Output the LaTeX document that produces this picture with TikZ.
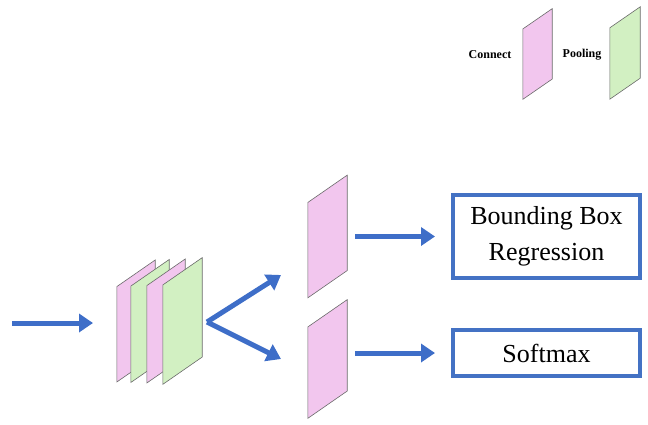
\documentclass[tikz,border=0pt]{standalone}
\usepackage{fontspec}
\setmainfont{Liberation Serif}
\usepackage{tikz}
\usetikzlibrary{arrows.meta,shapes}
\definecolor{flowblue}{HTML}{3E6EC8}
\definecolor{boxblue}{HTML}{4472C4}
\definecolor{connpink}{HTML}{F2C6EE}
\definecolor{poolgreen}{HTML}{D2F0C2}
\definecolor{layerline}{HTML}{6A6A6A}
% name, fill, centre, width, height
\newcommand{\layer}[5]{%
  \pgfmathsetmacro{\halfrise}{0.35*#4}
  \node[inner sep=0pt, minimum width=#4pt, minimum height=#5pt] (#1) at #3 {};
  \filldraw[fill=#2, draw=layerline, line width=0.6pt]
    ([yshift=-\halfrise pt]#1.south west) -- ([yshift=-\halfrise pt]#1.north west)
    -- ([yshift=\halfrise pt]#1.north east) -- ([yshift=\halfrise pt]#1.south east) -- cycle;
}

\begin{document}
\begin{tikzpicture}[x=1pt, y=-1pt,
  flow/.style={line width=5pt, draw=flowblue, -{Triangle[length=14pt, width=18pt]}},
  outbox/.style={draw=boxblue, line width=4pt, inner sep=0pt, font=\fontsize{26}{36}\selectfont, align=center},
  legend/.style={font=\fontsize{12}{14}\selectfont\bfseries}]
  \useasboundingbox (0,0) rectangle (648,424);

  % Legend
  \node[legend] (conntext) at (490,55) {Connect};
  \layer{connkey}{connpink}{(537.5,54)}{29}{70}
  \node[legend] (pooltext) at (582,55) {Pooling};
  \layer{poolkey}{poolgreen}{(625,53)}{30}{71}

  % Layers
  \layer{l1}{connpink}{(136,321)}{38}{95}
  \layer{l2}{poolgreen}{(150,321)}{38}{96}
  \layer{l3}{connpink}{(166,321)}{38}{97}
  \layer{l4}{poolgreen}{(182.5,321)}{39}{99}

  \layer{mid1}{connpink}{(327.5,236.5)}{39}{95}
  \layer{mid2}{connpink}{(327.5,359)}{39}{91}

  % Outputs
  \node[outbox, minimum width=187pt, minimum height=83pt] (bbr) at (546.5,236.5) {Bounding Box\\Regression};
  \node[outbox, minimum width=187pt, minimum height=46pt] (smax) at (546.5,353) {Softmax};

  % Edges
  \coordinate (input) at (12,323);
  \coordinate (stackin) at (93,323);
  \coordinate (fork) at (207,322);
  \coordinate (upper) at (281,275);
  \coordinate (lower) at (281,359);
  \draw[flow] (input) -- (stackin);
  \draw[flow] (fork) -- (upper);
  \draw[flow] (fork) -- (lower);
  \draw[flow] ([xshift=8pt]mid1.east) -- ([xshift=-16pt]bbr.west);
  \draw[flow] ([xshift=8pt]mid2.east |- smax.west) -- ([xshift=-16pt]smax.west);
\end{tikzpicture}
\end{document}
